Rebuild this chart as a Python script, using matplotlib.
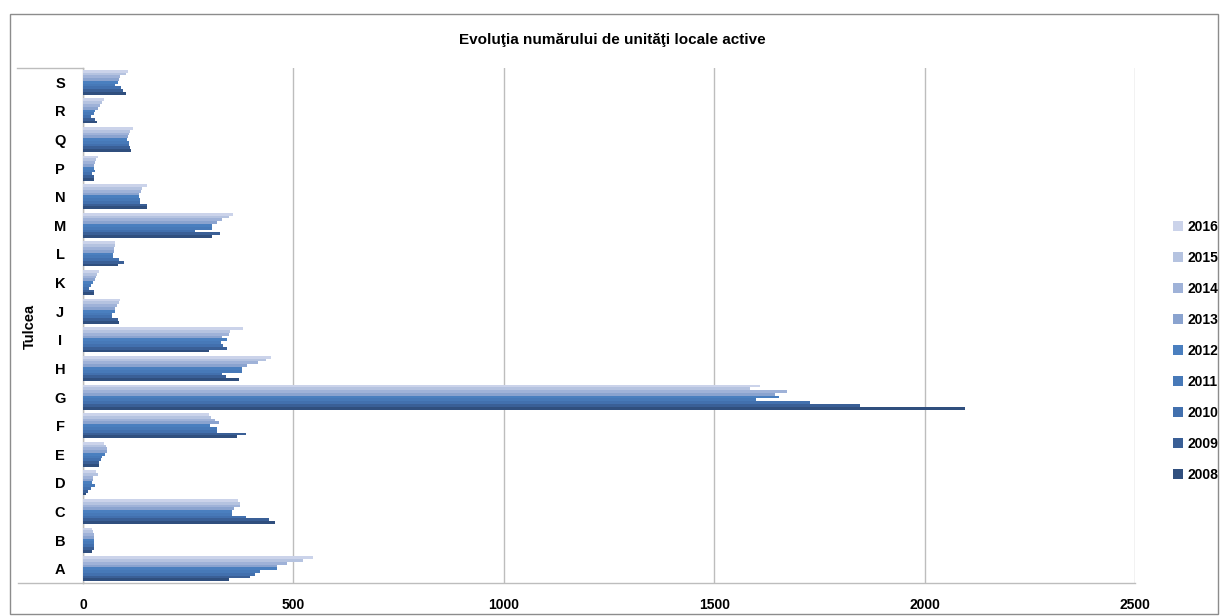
import matplotlib
matplotlib.use("Agg")
import matplotlib.pyplot as plt
from matplotlib.lines import Line2D
from matplotlib.patches import Rectangle
import numpy as np

plt.rcParams['font.family'] = ['Liberation Sans', 'DejaVu Sans']

categories = ['A', 'B', 'C', 'D', 'E', 'F', 'G', 'H', 'I', 'J', 'K', 'L', 'M', 'N', 'P', 'Q', 'R', 'S']
years = ['2008', '2009', '2010', '2011', '2012', '2013', '2014', '2015', '2016']

y2008 = [348, 22, 456, 6, 38, 367, 2096, 371, 300, 86, 25, 84, 306, 152, 27, 113, 33, 103]
y2009 = [397, 27, 442, 13, 38, 387, 1847, 340, 343, 82, 25, 97, 325, 152, 27, 111, 29, 94]
y2010 = [409, 25, 387, 18, 42, 319, 1727, 330, 332, 68, 14, 86, 265, 135, 22, 109, 18, 90]
y2011 = [421, 27, 355, 28, 46, 319, 1600, 377, 328, 70, 20, 72, 306, 135, 28, 109, 25, 77]
y2012 = [460, 25, 355, 22, 52, 301, 1653, 379, 343, 75, 24, 71, 307, 133, 26, 105, 29, 83]
y2013 = [462, 27, 360, 23, 57, 323, 1645, 390, 330, 77, 28, 74, 319, 134, 26, 106, 35, 85]
y2014 = [485, 27, 372, 24, 57, 313, 1672, 417, 346, 81, 30, 74, 331, 138, 28, 110, 40, 88]
y2015 = [522, 23, 373, 35, 55, 303, 1585, 435, 350, 86, 34, 76, 347, 140, 32, 112, 45, 103]
y2016 = [546, 22, 369, 30, 50, 300, 1608, 446, 380, 88, 39, 76, 357, 151, 35, 119, 51, 106]

series = [y2008, y2009, y2010, y2011, y2012, y2013, y2014, y2015, y2016]
colors = ['#304f7e', '#3a5f96', '#4270ae', '#4779b8', '#4a7fbf',
          '#8aa3cf', '#9fb2d8', '#b5c3e0', '#cbd3ea']

title = 'Evoluţia numărului de unităţi locale active'
outer_label = 'Tulcea'
xticks = [0, 500, 1000, 1500, 2000, 2500]

W, H = 1221, 616
fig = plt.figure(figsize=(W / 100, H / 100), dpi=100)
ax = fig.add_axes([83 / W, 1 - 583 / H, (1135 - 83) / W, (583 - 68) / H])

n = len(series)
group = 0.875
h = group / n
yc = np.arange(len(categories))
for j, (vals, col) in enumerate(zip(series, colors)):
    ax.barh(yc - group / 2 + (j + 0.5) * h, vals, height=h, color=col,
            edgecolor='none', label=years[j], zorder=3)

ax.set_xlim(0, 2500)
ax.set_ylim(-0.5, len(categories) - 0.5)
ax.set_xticks(xticks)
ax.set_xticklabels([str(t) for t in xticks], fontweight='bold', fontsize=10)
ax.set_yticks(yc)
ax.set_yticklabels(categories, fontweight='bold', fontsize=10.5)
for lab in ax.get_yticklabels():
    lab.set_horizontalalignment('center')
ax.tick_params(axis='y', length=0, pad=16.5)
ax.tick_params(axis='x', length=0, pad=11)
ax.xaxis.grid(True, color='#bdbdbd', linewidth=1, zorder=0)
ax.set_axisbelow(True)
for s in ['top', 'right']:
    ax.spines[s].set_visible(False)
for s in ['left', 'bottom']:
    ax.spines[s].set_color('#bdbdbd')
    ax.spines[s].set_linewidth(1)

def fx(x):
    return x / W

def fy(y):
    return 1 - y / H

# multi-level category axis lines
fig.add_artist(Line2D([fx(17), fx(83)], [fy(68), fy(68)], color='#bdbdbd', lw=1))
fig.add_artist(Line2D([fx(18), fx(83)], [fy(583), fy(583)], color='#bdbdbd', lw=1))
fig.text(fx(30), fy(326), outer_label, rotation=90, ha='center', va='center',
         fontweight='bold', fontsize=10.5)

# outer chart border
fig.add_artist(Rectangle((fx(9.5), fy(614)), fx(1218) - fx(9.5), fy(13.5) - fy(614),
                         fill=False, edgecolor='#8c8c8c', lw=1))

fig.text(fx(612), fy(40), title, ha='center', va='center', fontweight='bold', fontsize=11)

handles, labels = ax.get_legend_handles_labels()
leg = fig.legend(handles[::-1], labels[::-1], loc='center left',
                 bbox_to_anchor=(fx(1173), fy(351)), frameon=False,
                 borderaxespad=0, borderpad=0,
                 prop={'weight': 'bold', 'size': 10}, handlelength=0.72,
                 handleheight=0.72, handletextpad=0.3, labelspacing=1.22)

fig.savefig('out.png', dpi=100)
